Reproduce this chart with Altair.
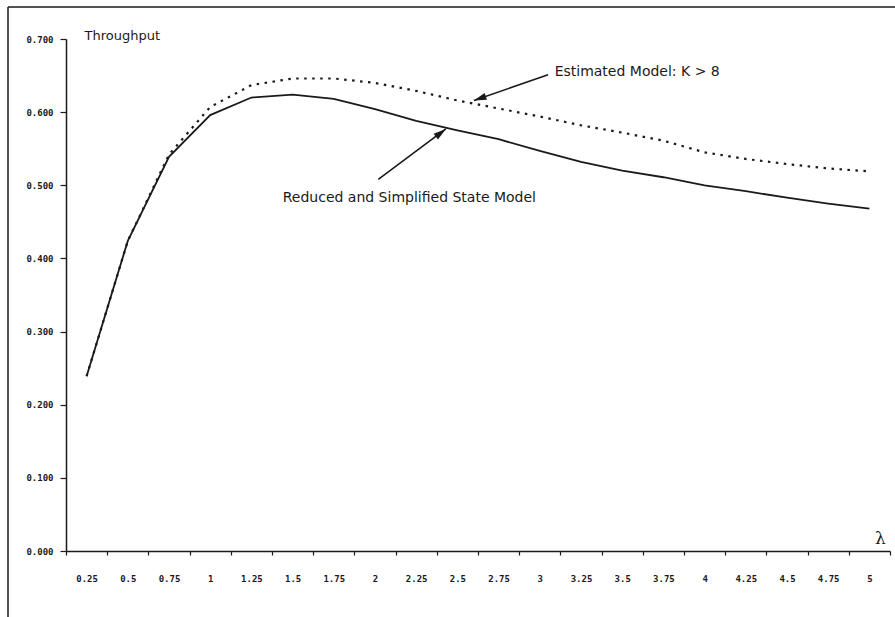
import altair as alt
import pandas as pd

# ---- data ----
lam_labels = ["0.25", "0.5", "0.75", "1", "1.25", "1.5", "1.75", "2", "2.25", "2.5",
              "2.75", "3", "3.25", "3.5", "3.75", "4", "4.25", "4.5", "4.75", "5"]
reduced = [0.239, 0.424, 0.539, 0.596, 0.620, 0.624, 0.618, 0.604, 0.588, 0.575,
           0.563, 0.547, 0.532, 0.520, 0.511, 0.500, 0.492, 0.483, 0.475, 0.468]
estimated = [0.239, 0.424, 0.542, 0.607, 0.637, 0.646, 0.646, 0.640, 0.629, 0.616,
             0.605, 0.594, 0.582, 0.572, 0.561, 0.545, 0.536, 0.529, 0.523, 0.519]
y_ticks = [0.0, 0.1, 0.2, 0.3, 0.4, 0.5, 0.6, 0.7]

# annotations (in data units: lambda, throughput)
ann_text = ["Estimated Model: K > 8", "Reduced and Simplified State Model"]
ann_text_lam = [3.09, 1.44]
ann_text_val = [0.655, 0.482]
ann_tail_lam = [3.05, 2.02]
ann_tail_val = [0.651, 0.508]
ann_tip_lam = [2.60, 2.43]
ann_tip_val = [0.616, 0.577]
ann_angle = [251, 53]

INK = "#1a1a1a"
W, H = 824, 512

df = pd.DataFrame({
    "lam": lam_labels * 2,
    "val": reduced + estimated,
    "series": ["Reduced"] * len(lam_labels) + ["Estimated"] * len(lam_labels),
})

ann = pd.DataFrame({
    "text": ann_text, "tx": ann_text_lam, "ty": ann_text_val,
    "x0": ann_tail_lam, "y0": ann_tail_val,
    "x1": ann_tip_lam, "y1": ann_tip_val, "angle": ann_angle,
})

xband = alt.X(
    "lam:O",
    sort=lam_labels,
    scale=alt.Scale(type="band", domain=lam_labels, paddingInner=0, paddingOuter=0),
    bandPosition=0.5,
    axis=alt.Axis(
        title="λ", titleFont="DejaVu Serif", titleFontSize=17, titleFontWeight="normal",
        titleColor=INK, titleX=814, titleY=-13, titleAlign="center", titleBaseline="middle",
        titleAnchor="end",
        labelAngle=0, labelPadding=19, tickBand="extent", tickSize=4, tickWidth=1.2,
        tickColor=INK, domainColor=INK, domainWidth=1.5,
        labelFont="DejaVu Sans Mono", labelFontSize=9, labelFontWeight="bold",
        labelColor=INK,
    ),
)
yq = alt.Y(
    "val:Q",
    scale=alt.Scale(domain=[0, 0.7], nice=False, zero=True),
    axis=alt.Axis(
        title="Throughput", titleAngle=0, titleX=18, titleY=-4, titleAlign="left",
        titleBaseline="middle", titleFont="DejaVu Sans", titleFontSize=13,
        titleFontWeight="normal", titleColor=INK,
        values=y_ticks, format=".3f", tickSize=6, tickWidth=1.2, tickColor=INK,
        domainColor=INK, domainWidth=1.5, labelPadding=7, grid=False,
        labelFont="DejaVu Sans Mono", labelFontSize=9, labelFontWeight="bold",
        labelColor=INK,
    ),
)

base = alt.Chart(df)
solid = base.transform_filter(alt.datum.series == "Reduced").mark_line(
    color=INK, strokeWidth=1.8
).encode(x=xband, y=yq)
dotted = base.transform_filter(alt.datum.series == "Estimated").mark_line(
    color=INK, strokeWidth=2.2, strokeDash=[2.5, 5.5]
).encode(x=xband, y=yq)

frame_df = pd.DataFrame({"k": [0]})
frame_left = alt.Chart(frame_df).mark_rule(color=INK, strokeWidth=1.5).encode(
    x=alt.value(-58), y=alt.value(-32), y2=alt.value(H + 66))
frame_top = alt.Chart(frame_df).mark_rule(color=INK, strokeWidth=1.5).encode(
    x=alt.value(-58), x2=alt.value(W + 5), y=alt.value(-32))

main = alt.layer(solid, dotted, frame_left, frame_top)

ax = alt.Scale(domain=[0.125, 5.125], nice=False, zero=False)
ay = alt.Scale(domain=[0, 0.7], nice=False, zero=True)
abase = alt.Chart(ann)
texts = abase.mark_text(
    align="left", baseline="middle", font="DejaVu Sans", fontSize=14, color=INK
).encode(x=alt.X("tx:Q", scale=ax, axis=None), y=alt.Y("ty:Q", scale=ay, axis=None),
         text="text:N")
arrows = abase.mark_rule(color=INK, strokeWidth=1.6).encode(
    x=alt.X("x0:Q", scale=ax, axis=None), y=alt.Y("y0:Q", scale=ay, axis=None),
    x2="x1:Q", y2="y1:Q")
heads = abase.mark_point(
    shape="M0,0L-0.6,2.1L0.6,2.1Z", filled=True, color=INK, size=144, opacity=1
).encode(x=alt.X("x1:Q", scale=ax, axis=None), y=alt.Y("y1:Q", scale=ay, axis=None),
         angle=alt.Angle("angle:Q", scale=None))
annot = alt.layer(texts, arrows, heads)

chart = alt.layer(main, annot).resolve_scale(x="independent", y="independent").properties(
    width=W, height=H,
    autosize=alt.AutoSizeParams(type="none"),
    padding={"left": 66, "top": 39, "right": 5, "bottom": 66},
    background="white",
).configure_view(stroke=None)

chart.save("out.html", embed_options={"renderer": "svg", "actions": False})
